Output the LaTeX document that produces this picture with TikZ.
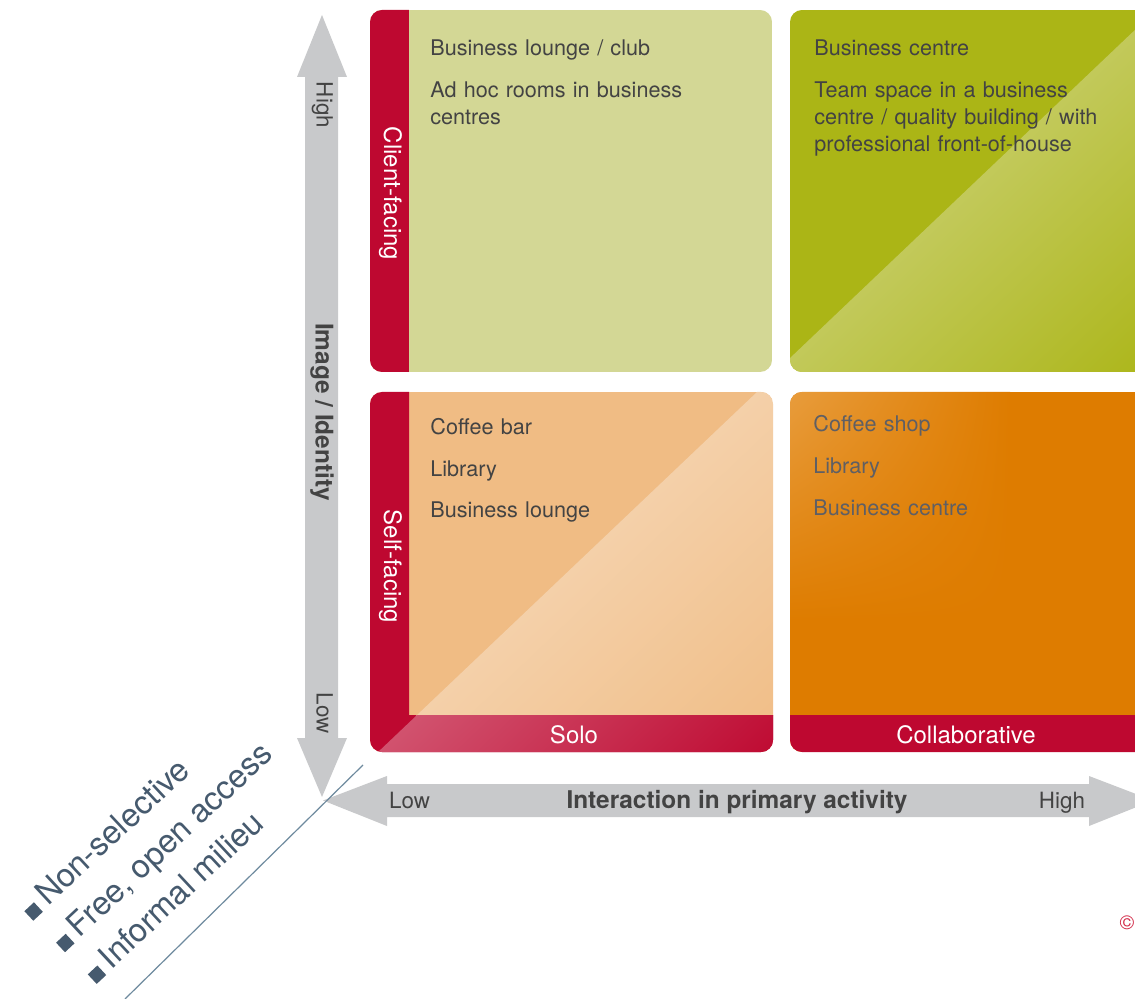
\documentclass[tikz,border=0pt]{standalone}
\usepackage{fontspec}
\setmainfont{TeX Gyre Heros}
\usetikzlibrary{shadings}
\definecolor{qred}{RGB}{190,8,48}
\definecolor{qgreen}{RGB}{211,215,149}
\definecolor{qolive}{RGB}{171,181,22}
\definecolor{gL}{RGB}{194,201,90}
\definecolor{gM}{RGB}{217,221,158}
\definecolor{qorange}{RGB}{240,188,132}
\definecolor{oL}{RGB}{244,208,169}
\definecolor{oM}{RGB}{248,228,206}
\definecolor{rL}{RGB}{209,82,110}
\definecolor{rM}{RGB}{228,156,172}
\definecolor{qdorange}{RGB}{222,124,0}
\definecolor{brL}{RGB}{232,156,60}
\definecolor{axisgray}{RGB}{200,201,203}
\definecolor{textdark}{RGB}{67,67,67}
\definecolor{textbr}{RGB}{95,95,100}
\definecolor{slate}{RGB}{70,90,110}
\definecolor{lineslate}{RGB}{110,138,158}
\definecolor{copyred}{RGB}{210,40,70}
\tikzset{
  item/.style={anchor=base west, inner sep=0pt, text=textdark, font=\fontsize{10.8}{13.5}\selectfont, align=left, text width=170pt},
  itembr/.style={item, text=textbr},
  striplbl/.style={anchor=base, inner sep=0pt, text=white, font=\fontsize{12}{14}\selectfont},
  axislbl/.style={anchor=base, inner sep=0pt, text=textdark, font=\fontsize{11.2}{13}\selectfont},
  axisbold/.style={anchor=base, inner sep=0pt, text=textdark, font=\fontsize{12.2}{14}\selectfont\bfseries},
  bullet/.style={anchor=base west, inner sep=0pt, rotate=43, text=slate, font=\fontsize{16.3}{19}\selectfont},
  quad/.style={rounded corners=6pt}
}
\newcommand{\bul}{\rule{0.4em}{0.4em}\hspace{0.22em}}
\begin{document}
\begin{tikzpicture}[x=0.5pt,y=-0.5pt]
\useasboundingbox (0,0) rectangle (1135,999);
\fill[white] (0,0) rectangle (1135,999);
\clip (0,0) rectangle (1135,999);

% axes
\fill[axisgray] (322,15) -- (347,77) -- (338,77) -- (338,738) -- (347,738) -- (322,797)
  -- (297,738) -- (305,738) -- (305,77) -- (297,77) -- cycle;
\fill[axisgray] (323,800.5) -- (387,776) -- (387,784) -- (1089,784) -- (1089,776) -- (1153,800.5)
  -- (1089,826) -- (1089,817) -- (387,817) -- (387,826) -- cycle;
\draw[lineslate, line width=0.6pt] (125,999) -- (363,765);

% top-left quadrant
\begin{scope}
  \clip[quad] (370,10) rectangle (772,372);
  \fill[qgreen] (370,10) rectangle (772,372);
  \fill[qred] (360,0) rectangle (409,380);
\end{scope}

% top-right quadrant
\begin{scope}
  \clip[quad] (790,10) rectangle (1200,372);
  \fill[qolive] (790,10) rectangle (1200,372);
  \clip (766.9,380) -- (1166.4,0) -- (1210,0) -- (1210,390) -- (766.9,390) -- cycle;
  \shade[lower left=gL, upper right=gL, lower right=qolive, upper left=gM] (766.9,0) rectangle (1166.4,380);
\end{scope}

% bottom-left quadrant
\begin{scope}
  \clip[quad] (370,392) rectangle (773,752);
  \fill[qorange] (370,392) rectangle (773,752);
  \fill[qred] (360,385) -- (409,385) -- (409,715) -- (780,715) -- (780,760) -- (360,760) -- cycle;
  \clip (364.4,765) -- (774.9,375) -- (800,375) -- (800,780) -- (364.4,780) -- cycle;
  \begin{scope}
    \clip (409,380) rectangle (790,715);
    \shade[lower left=oL, upper right=oL, lower right=qorange, upper left=oM] (364.4,375) rectangle (774.9,765);
  \end{scope}
  \begin{scope}
    \clip (360,385) -- (409,385) -- (409,715) -- (780,715) -- (780,760) -- (360,760) -- cycle;
    \shade[lower left=rL, upper right=rL, lower right=qred, upper left=rM] (364.4,375) rectangle (774.9,765);
  \end{scope}
\end{scope}

% bottom-right quadrant
\begin{scope}
  \clip[quad] (790,392) rectangle (1200,752);
  \fill[qdorange] (790,392) rectangle (1200,752);
  \shade[upper left=brL, upper right=qdorange, lower left=qdorange, lower right=qdorange] (790,392) rectangle (1010,620);
  \fill[qred] (780,715) rectangle (1210,760);
\end{scope}

% quadrant texts
\node[item] (tl1) at (430,56) {Business lounge / club};
\node[item] (tl2) at (430,98) {Ad hoc rooms in business\\centres};
\node[item] (tr1) at (814,56) {Business centre};
\node[item] (tr2) at (814,98) {Team space in a business\\centre / quality building / with\\professional front-of-house};
\node[item] (bl1) at (430,435) {Coffee bar};
\node[item] (bl2) at (430,477) {Library};
\node[item] (bl3) at (430,518) {Business lounge};
\node[itembr] (br1) at (813,432) {Coffee shop};
\node[itembr] (br2) at (813,474) {Library};
\node[itembr] (br3) at (813,516) {Business centre};

% strip labels
\node[striplbl, rotate=-90] (client) at (384,193.5) {Client-facing};
\node[striplbl, rotate=-90] (self) at (384,566.5) {Self-facing};
\node[striplbl] (solo) at (574,743) {Solo};
\node[striplbl] (collab) at (966,743) {Collaborative};

% axis labels
\node[axislbl, rotate=-90] (vhigh) at (316.5,105) {High};
\node[axisbold, rotate=-90] (vtitle) at (315.5,412) {Image / Identity};
\node[axislbl, rotate=-90] (vlow) at (316.5,713) {Low};
\node[axislbl] (hlow) at (409.5,808) {Low};
\node[axisbold] (htitle) at (737,808) {Interaction in primary activity};
\node[axislbl] (hhigh) at (1062,808) {High};

% diagonal bullet list
\node[bullet] (b1) at (33,921) {\bul Non-selective};
\node[bullet] (b2) at (64.7,952.5) {\bul Free, open access};
\node[bullet] (b3) at (96.4,984.2) {\bul Informal milieu};

\node[inner sep=0pt, text=copyred, font=\fontsize{10}{12}\selectfont] (copy) at (1127,923) {©};
\end{tikzpicture}
\end{document}
